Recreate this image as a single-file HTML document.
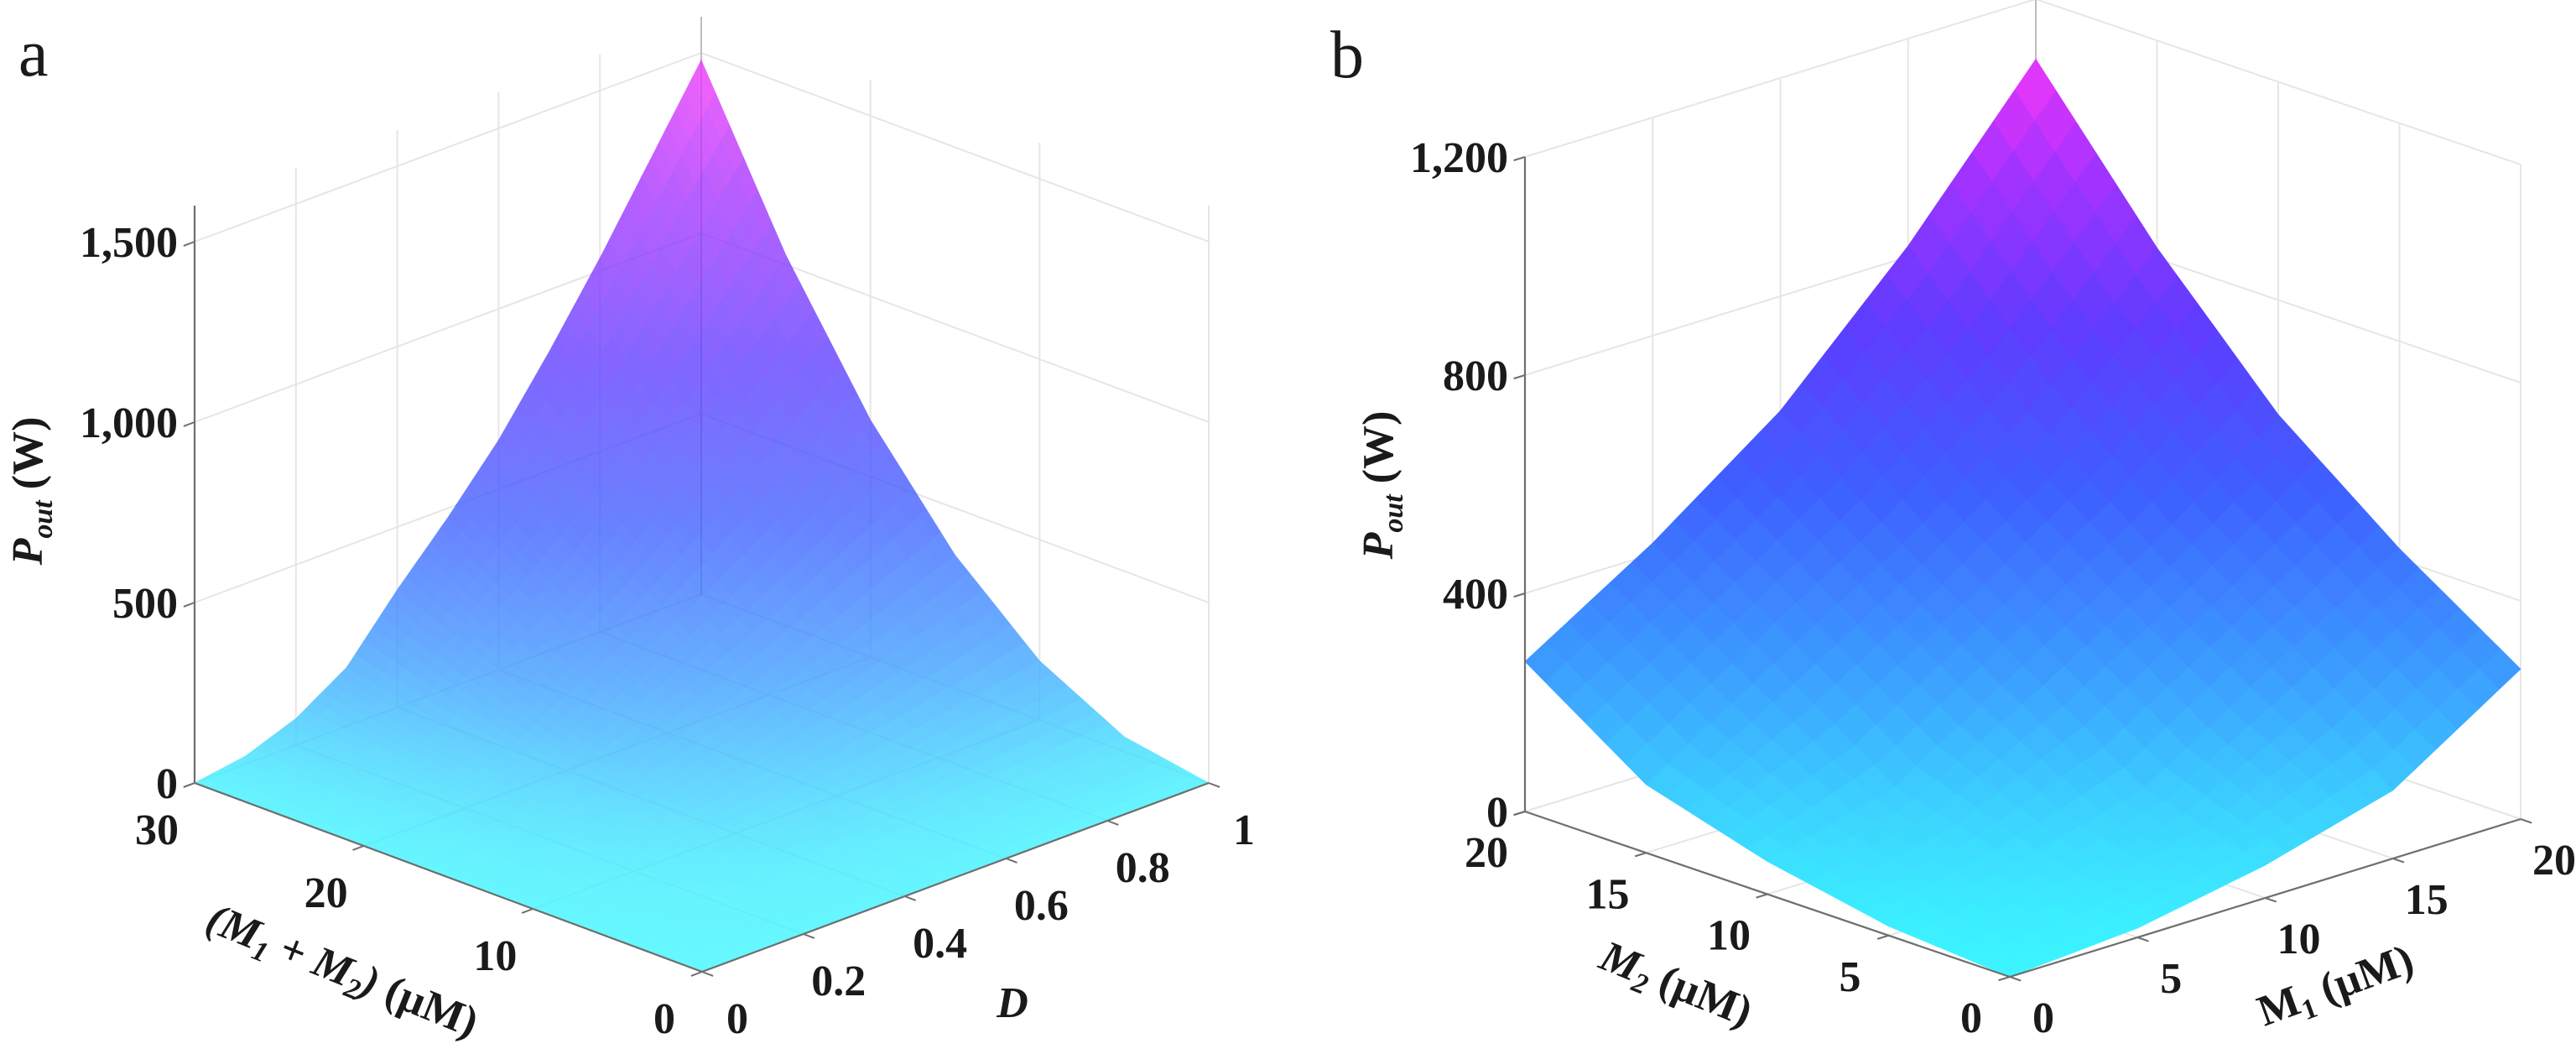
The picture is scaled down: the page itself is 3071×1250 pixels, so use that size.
<!DOCTYPE html>
<html><head><meta charset="utf-8"><style>
html,body{margin:0;padding:0;background:#fff;}
svg{display:block;}
text{font-family:"Liberation Serif",serif;fill:#1a1a1a;}
.tk{font-size:52px;font-weight:bold;}
.ax{font-size:52px;font-weight:bold;}
.pl{font-size:80px;}
</style></head><body>
<svg id="chart" width="3071" height="1250" viewBox="0 0 3071 1250" xmlns="http://www.w3.org/2000/svg">
<text class="pl" x="22" y="90">a</text>
<text class="pl" x="1586" y="92">b</text>
<g id="pa"></g>
<g id="pb"></g>
<text class="ax" transform="translate(50,585) rotate(-90)" text-anchor="middle"><tspan font-style="italic">P</tspan><tspan font-style="italic" font-size="34" dy="12">out</tspan><tspan dy="-12"> (W)</tspan></text>
<text class="ax" transform="translate(402,1172) rotate(22)" text-anchor="middle"><tspan font-style="italic">(M</tspan><tspan font-style="italic" font-size="34" dy="10">1</tspan><tspan font-style="italic" dy="-10"> + M</tspan><tspan font-style="italic" font-size="34" dy="10">2</tspan><tspan font-style="italic" dy="-10">)</tspan><tspan> (µM)</tspan></text>
<text class="ax" x="1207" y="1212" text-anchor="middle" font-style="italic">D</text>
<text class="ax" transform="translate(1660,578) rotate(-90)" text-anchor="middle"><tspan font-style="italic">P</tspan><tspan font-style="italic" font-size="34" dy="12">out</tspan><tspan dy="-12"> (W)</tspan></text>
<text class="ax" transform="translate(1992,1188) rotate(22)" text-anchor="middle"><tspan font-style="italic">M</tspan><tspan font-style="italic" font-size="34" dy="10">2</tspan><tspan dy="-10"> (µM)</tspan></text>
<text class="ax" transform="translate(2790,1190) rotate(-20)" text-anchor="middle"><tspan>M</tspan><tspan font-size="34" dy="10">1</tspan><tspan dy="-10"> (µM)</tspan></text>
</svg>
<script>
// ---------- Panel a data ----------
const aMvals = [0, 5, 10, 15, 20, 25, 30];
const aDvals = [0, 0.1, 0.2, 0.3, 0.4, 0.5, 0.6, 0.7, 0.8, 0.9, 1];
const aP0  = [0,0,0,0,0,0,0,0,0,0,0];
const aP5  = [0,0.6,2,4.5,9,13,18,23,29,35,41];
const aP10 = [0,2,8,18,36,52,71,92,115,139,164];
const aP15 = [0,6,19,41,81,118,159,207,259,315,370];
const aP20 = [0,10,33,72,145,210,283,368,460,558,657];
const aP25 = [0,15,51,113,226,329,442,575,719,873,1027];
const aP30 = [0,22,74,163,326,474,636,829,1036,1258,1480];
const aZTicks = [0, 500, 1000, 1500];
const aZTickLabels = ["0", "500", "1,000", "1,500"];
const aMTicks = [0, 10, 20, 30];
const aMTickLabels = ["0", "10", "20", "30"];
const aDTicks = [0, 0.2, 0.4, 0.6, 0.8, 1];
const aDTickLabels = ["0", "0.2", "0.4", "0.6", "0.8", "1"];
// ---------- Panel b data ----------
const bM2vals = [0, 5, 10, 15, 20];
const bM1vals = [0, 5, 10, 15, 20];
const bP0  = [0, 17, 60, 125, 275];
const bP5  = [17, 60, 125, 275, 420];
const bP10 = [60, 125, 275, 420, 590];
const bP15 = [125, 275, 420, 590, 820];
const bP20 = [275, 420, 590, 820, 1090];
const bZTicks = [0, 400, 800, 1200];
const bZTickLabels = ["0", "400", "800", "1,200"];
const bM2Ticks = [0, 5, 10, 15, 20];
const bM2TickLabels = ["0", "5", "10", "15", "20"];
const bM1Ticks = [0, 5, 10, 15, 20];
const bM1TickLabels = ["0", "5", "10", "15", "20"];

const NS = "http://www.w3.org/2000/svg";
const stops = [[0,[60,245,255]],[0.25,[60,155,255]],[0.45,[62,95,255]],[0.65,[95,60,255]],[0.85,[165,50,255]],[1,[245,55,250]]];
function cmap(t){
  t=Math.max(0,Math.min(1,t));
  for(let i=1;i<stops.length;i++){
    if(t<=stops[i][0]){
      const a=stops[i-1],b=stops[i],f=(t-a[0])/(b[0]-a[0]);
      const c=a[1].map((v,k)=>Math.round(v+(b[1][k]-v)*f));
      return "rgb("+c.join(",")+")";
    }
  }
  return "rgb(245,55,250)";
}
function el(parent, tag, attrs){
  const e=document.createElementNS(NS,tag);
  for(const k in attrs) e.setAttribute(k,attrs[k]);
  parent.appendChild(e);
  return e;
}
function drawPanel(g, cfg){
  const F=cfg.front,L=cfg.left,R=cfg.right;
  const proj=(u,v,z)=>[F[0]+u*(L[0]-F[0])+v*(R[0]-F[0]), F[1]+u*(L[1]-F[1])+v*(R[1]-F[1])-z*cfg.kz];
  const line=(p,q,stroke,w,name)=>{
    const e=el(g,"line",{x1:p[0],y1:p[1],x2:q[0],y2:q[1],stroke:stroke,"stroke-width":w});
    
    
  };
  const gc="#e6e6e6";
  cfg.vTicks.forEach(v=>line(proj(1,v,0),proj(1,v,cfg.zmax),gc,2,"gridline"));
  cfg.zTicks.forEach(z=>line(proj(1,0,z),proj(1,1,z),gc,2,"gridline"));
  cfg.uTicks.forEach(u=>line(proj(u,1,0),proj(u,1,cfg.zmax),gc,2,"gridline"));
  cfg.zTicks.forEach(z=>line(proj(0,1,z),proj(1,1,z),gc,2,"gridline"));
  cfg.uTicks.forEach(u=>line(proj(u,0,0),proj(u,1,0),gc,2,"gridline"));
  cfg.vTicks.forEach(v=>line(proj(0,v,0),proj(1,v,0),gc,2,"gridline"));
  line(proj(1,1,0),proj(1,1,cfg.zmax),"#bdbdbd",2,"back-corner-line");
  const sg=el(g,"g",{opacity:cfg.opacity});
  
  
  const us=cfg.uVals.map(x=>x/cfg.uMax), vs=cfg.vVals.map(x=>x/cfg.vMax), P=cfg.grid;
  const n=6, facets=[];
  for(let i=0;i<us.length-1;i++)for(let j=0;j<vs.length-1;j++){
    const z00=P[i][j],z01=P[i][j+1],z10=P[i+1][j],z11=P[i+1][j+1];
    const bl=(s,t)=>z00*(1-s)*(1-t)+z01*(1-s)*t+z10*s*(1-t)+z11*s*t;
    for(let a=0;a<n;a++)for(let b=0;b<n;b++){
      const s0=a/n,s1=(a+1)/n,t0=b/n,t1=(b+1)/n;
      const pts=[[s0,t0],[s0,t1],[s1,t1],[s1,t0]].map(([s,t])=>{
        const u=us[i]+(us[i+1]-us[i])*s, v=vs[j]+(vs[j+1]-vs[j])*t;
        return [u,v,bl(s,t)];
      });
      const zc=pts.reduce((acc,p)=>acc+p[2],0)/4;
      const depth=pts.reduce((acc,p)=>acc+p[0]+p[1],0)/4;
      facets.push({pts,zc,depth});
    }
  }
  facets.sort((x,y)=>y.depth-x.depth);
  facets.forEach(f=>{
    const c=cmap(Math.pow(f.zc/cfg.cmax,cfg.gamma));
    const e=el(sg,"polygon",{points:f.pts.map(p=>proj(p[0],p[1],p[2]).map(v=>v.toFixed(1)).join(",")).join(" "),fill:c,stroke:c,"stroke-width":0.7,"stroke-linejoin":"round"});
    
    
  });
  const ac="#6e6e6e";
  line(proj(1,0,0),proj(1,0,cfg.zmax),ac,2.2,"z-axis-line");
  line(proj(1,0,0),proj(0,0,0),ac,2.2,"left-axis-line");
  line(proj(0,0,0),proj(0,1,0),ac,2.2,"right-axis-line");
  const dv=[R[0]-F[0],R[1]-F[1]], du=[L[0]-F[0],L[1]-F[1]];
  const nv=Math.hypot(dv[0],dv[1]), nu=Math.hypot(du[0],du[1]);
  cfg.uTicks.forEach((u,k)=>{
    const p=proj(u,0,0);
    line(p,[p[0]-dv[0]/nv*14,p[1]-dv[1]/nv*14],ac,2,"u-tick");
    const t=el(g,"text",{x:p[0]+cfg.uOff[0],y:p[1]+cfg.uOff[1]+18,"text-anchor":"middle",class:"tk"});
    t.textContent=cfg.uLabels[k];
    
    
  });
  cfg.vTicks.forEach((v,k)=>{
    const p=proj(0,v,0);
    line(p,[p[0]-du[0]/nu*14,p[1]-du[1]/nu*14],ac,2,"v-tick");
    const t=el(g,"text",{x:p[0]+cfg.vOff[0],y:p[1]+cfg.vOff[1]+18,"text-anchor":"middle",class:"tk"});
    t.textContent=cfg.vLabels[k];
    
    
  });
  cfg.zTicks.forEach((z,k)=>{
    const p=proj(1,0,z);
    line(p,[p[0]-dv[0]/nv*14,p[1]-dv[1]/nv*14],ac,2,"z-tick");
    const t=el(g,"text",{x:p[0]-20,y:p[1]+18,"text-anchor":"end",class:"tk"});
    t.textContent=cfg.zLabels[k];
    
    
  });
}
drawPanel(document.getElementById("pa"),{
  front:[837,1158],left:[232,933],right:[1441,933],kz:0.43,zmax:1600,cmax:1480,gamma:0.7,opacity:0.78,
  uVals:aMvals,uMax:30,vVals:aDvals,vMax:1,grid:[aP0,aP5,aP10,aP15,aP20,aP25,aP30],
  uTicks:aMTicks.map(m=>m/30),uLabels:aMTickLabels,vTicks:aDTicks,vLabels:aDTickLabels,
  zTicks:aZTicks,zLabels:aZTickLabels,uOff:[-45,55],vOff:[42,55]
});
drawPanel(document.getElementById("pb"),{
  front:[2396,1164],left:[1818,967],right:[3005,976],kz:0.65,zmax:1200,cmax:1090,gamma:1,opacity:1,
  uVals:bM2vals,uMax:20,vVals:bM1vals,vMax:20,grid:[bP0,bP5,bP10,bP15,bP20],
  uTicks:bM2Ticks.map(m=>m/20),uLabels:bM2TickLabels,vTicks:bM1Ticks.map(m=>m/20),vLabels:bM1TickLabels,
  zTicks:bZTicks,zLabels:bZTickLabels,uOff:[-46,48],vOff:[40,48]
});
</script>
</body></html>
